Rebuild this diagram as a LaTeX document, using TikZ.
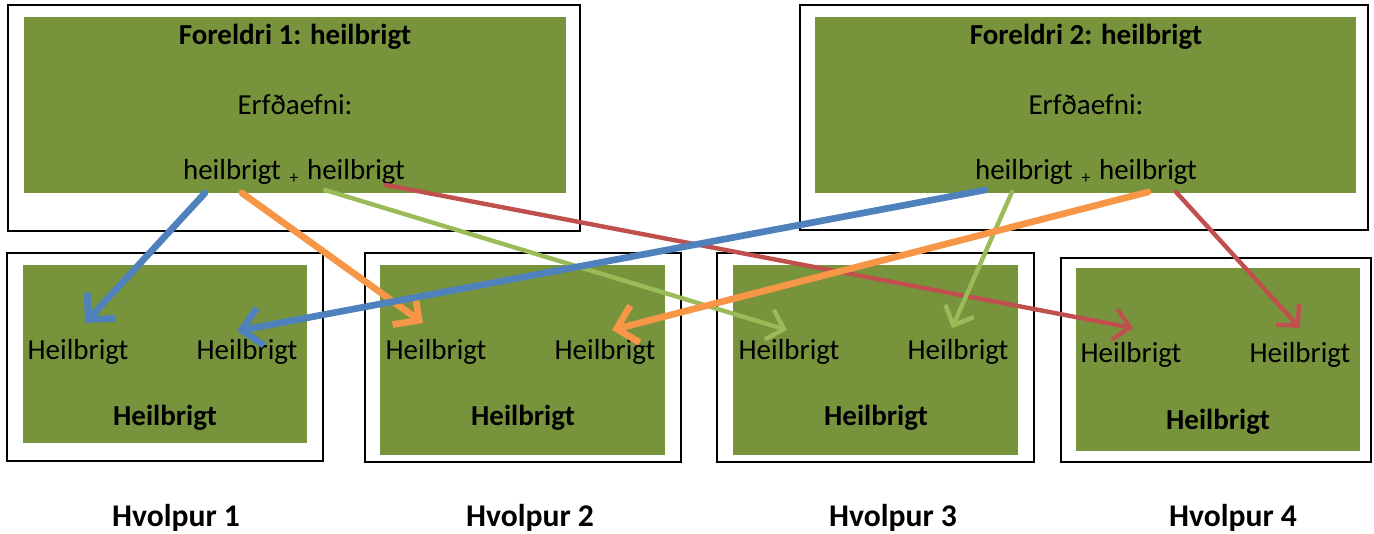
\documentclass[tikz,border=0pt]{standalone}
\usepackage{fontspec}
\setmainfont{Carlito}
\usepackage{tikz}
\usetikzlibrary{positioning}
\usetikzlibrary{arrows.meta}

\definecolor{plategreen}{HTML}{77933C}
\definecolor{genblue}{HTML}{4F81BD}
\definecolor{genorange}{HTML}{F79646}
\definecolor{genlime}{HTML}{9BBB59}
\definecolor{genred}{HTML}{C0504D}

\begin{document}
\begin{tikzpicture}[x=0.02cm, y=-0.02cm,
	frame/.style={draw=black, line width=1.1pt, fill=white, inner sep=0pt},
	plate/.style={fill=plategreen, inner sep=0pt},
	txt/.style={inner sep=0pt, font=\fontsize{16.5}{19}\selectfont},
	heavy/.style={inner sep=0pt, font=\fontsize{16.5}{19}\selectfont\bfseries},
	caption/.style={inner sep=0pt, font=\fontsize{18}{21}\selectfont\bfseries},
	plus/.style={inner sep=0pt, font=\fontsize{10}{11}\selectfont},
	fat/.style={line width=3.8pt, line cap=round, line join=round,
		-{Straight Barb[length=3.8mm, width=7.6mm]}},
	slim/.style={line width=2.5pt, line cap=round, line join=round,
		-{Straight Barb[length=3.1mm, width=6.2mm]}},
	]
	
	% ------------------------------------------------
	% Dimensions of the graphic
	\useasboundingbox (0,0) rectangle (1374,534);
	
	% ------------------------------------------------
	% Parents
	\node[frame, minimum width=11.44cm, minimum height=4.52cm] (F1) at (294,118) {};
	\node[plate, minimum width=10.84cm, minimum height=3.52cm] (P1) at (295,105) {};
	\node[frame, minimum width=11.36cm, minimum height=4.50cm] (F2) at (1084,117.5) {};
	\node[plate, minimum width=10.82cm, minimum height=3.52cm] (P2) at (1085.5,105) {};
	
	\node[heavy] (T1) at (295,37) {Foreldri 1: heilbrigt};
	\node[txt] (E1) at (295,105) {Erfðaefni:};
	\node[txt] (p1a) at (232,172) {heilbrigt};
	\node[plus] (p1plus) at (294,179) {+};
	\node[txt] (p1b) at (356,172) {heilbrigt};
	
	\node[heavy] (T2) at (1086,37) {Foreldri 2: heilbrigt};
	\node[txt] (E2) at (1086,105) {Erfðaefni:};
	\node[txt] (p2a) at (1024,172) {heilbrigt};
	\node[plus] (p2plus) at (1086,179) {+};
	\node[txt] (p2b) at (1148,172) {heilbrigt};
	
	% ------------------------------------------------
	% Puppies
	\node[frame, minimum width=6.32cm, minimum height=4.16cm] (G1) at (165,357) {};
	\node[plate, minimum width=5.68cm, minimum height=3.56cm] (Q1) at (165,354) {};
	\node[frame, minimum width=6.32cm, minimum height=4.18cm] (G2) at (523,357.5) {};
	\node[plate, minimum width=5.70cm, minimum height=3.80cm] (Q2) at (522.5,360) {};
	\node[frame, minimum width=6.34cm, minimum height=4.18cm] (G3) at (875.5,357.5) {};
	\node[plate, minimum width=5.70cm, minimum height=3.80cm] (Q3) at (875.5,360) {};
	\node[frame, minimum width=6.20cm, minimum height=4.08cm] (G4) at (1216,360) {};
	\node[plate, minimum width=5.68cm, minimum height=3.66cm] (Q4) at (1218,359.5) {};
	
	\node[txt] (h1a) at (78,352) {Heilbrigt};
	\node[txt] (h1b) at (247,352) {Heilbrigt};
	\node[heavy] (s1) at (165,418) {Heilbrigt};
	\node[txt] (h2a) at (436,352) {Heilbrigt};
	\node[txt] (h2b) at (605,352) {Heilbrigt};
	\node[heavy] (s2) at (523,418) {Heilbrigt};
	\node[txt] (h3a) at (789,352) {Heilbrigt};
	\node[txt] (h3b) at (958,352) {Heilbrigt};
	\node[heavy] (s3) at (876,418) {Heilbrigt};
	\node[txt] (h4a) at (1131,355) {Heilbrigt};
	\node[txt] (h4b) at (1300,355) {Heilbrigt};
	\node[heavy] (s4) at (1218,422) {Heilbrigt};
	
	\node[caption] (L1) at (176,518) {Hvolpur 1};
	\node[caption] (L2) at (530,518) {Hvolpur 2};
	\node[caption] (L3) at (893,518) {Hvolpur 3};
	\node[caption] (L4) at (1233,518) {Hvolpur 4};
	
	% ------------------------------------------------
	% Inheritance
	\draw[slim, genlime] ([shift={(-31,18)}]p1b.center) -- ([shift={(-2,-22)}]h3a.center);
	\draw[slim, genred] ([shift={(30,13)}]p1b.center) -- ([shift={(2,-27)}]h4a.center);
	\draw[slim, genlime] ([shift={(-12,20)}]p2a.center) -- ([shift={(-6,-24)}]h3b.center);
	\draw[slim, genred] ([shift={(28,20)}]p2b.center) -- ([shift={(0,-27)}]h4b.center);
	\draw[fat, genorange] ([shift={(10,21)}]p1a.center) -- ([shift={(-13,-29)}]h2a.center);
	\draw[fat, genblue] ([shift={(-39,18)}]p2a.center) -- ([shift={(-10,-21)}]h1b.center);
	\draw[fat, genorange] ([shift={(0,20)}]p2b.center) -- ([shift={(7,-22)}]h2b.center);
	\draw[fat, genblue] ([shift={(-27,21)}]p1a.center) -- ([shift={(7,-29)}]h1a.center);
	
\end{tikzpicture}
\end{document}
